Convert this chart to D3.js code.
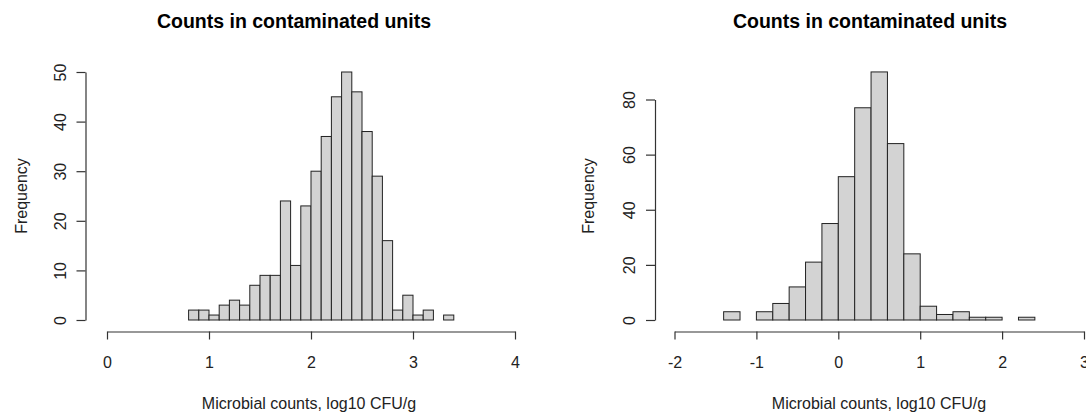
<!DOCTYPE html>
<html lang="en">
<head>
<meta charset="utf-8">
<title>Counts in contaminated units</title>
<script src="https://d3js.org/d3.v7.min.js"></script>
<style>
  html, body { margin: 0; padding: 0; background: #fff; }
  svg { display: block; font-family: "Liberation Sans", Arial, sans-serif; }
  .title { font-size: 19.5px; font-weight: bold; fill: #000; }
  .lab { font-size: 16px; fill: #222; }
  .axis text { font-size: 16px; fill: #222; font-family: "Liberation Sans", Arial, sans-serif; }
  .axis path, .axis line { stroke: #333; }
</style>
</head>
<body>
<svg width="1086" height="413"></svg>
<script>
// left histogram: bins of 0.1 starting at 0.8
const leftStart = 0.8, leftWidth = 0.1;
const leftCounts = [2, 2, 1, 3, 4, 3, 7, 9, 9, 24, 11, 23, 30, 37, 45, 50, 46, 38, 29, 16, 2, 5, 1, 2, 0, 1];
const leftXTicks = [0, 1, 2, 3, 4];
const leftYTicks = [0, 10, 20, 30, 40, 50];

// right histogram: bins of 0.2 starting at -1.4
const rightStart = -1.4, rightWidth = 0.2;
const rightCounts = [3, 0, 3, 6, 12, 21, 35, 52, 77, 90, 64, 24, 5, 2, 3, 1, 1, 0, 1];
const rightXTicks = [-2, -1, 0, 1, 2, 3];
const rightYTicks = [0, 20, 40, 60, 80];

const svg = d3.select("svg");

function hist(cfg) {
  const x = d3.scaleLinear().domain(cfg.xDomain).range(cfg.xRange);
  const y = d3.scaleLinear().domain(cfg.yDomain).range([320, cfg.yTop]);
  const bins = cfg.counts.map((c, i) => ({
    x0: cfg.start + i * cfg.width,
    x1: cfg.start + (i + 1) * cfg.width,
    c: c
  }));

  const g = svg.append("g");

  g.selectAll("rect")
    .data(bins)
    .enter()
    .append("rect")
    .attr("x", d => x(d.x0))
    .attr("width", d => x(d.x1) - x(d.x0))
    .attr("y", d => y(d.c))
    .attr("height", d => y(0) - y(d.c))
    .attr("fill", "#d3d3d3")
    .attr("stroke", "#222")
    .attr("stroke-width", 1);

  // x axis, R style: below the plot, only over the tick range
  g.append("g")
    .attr("class", "axis")
    .attr("transform", "translate(0,331.5)")
    .call(d3.axisBottom(x).tickValues(cfg.xTicks).tickFormat(d => String(d))
      .tickSize(8).tickSizeOuter(0).tickPadding(17))
    .call(a => a.select(".domain").attr("stroke-width", 1.2))
    .call(a => a.selectAll("line").attr("stroke-width", 1.2));

  // y axis with rotated labels
  const ya = g.append("g")
    .attr("class", "axis")
    .attr("transform", `translate(${cfg.yAxisX},0)`)
    .call(d3.axisLeft(y).tickValues(cfg.yTicks).tickFormat(d => String(d))
      .tickSize(9).tickSizeOuter(0))
    .call(a => a.select(".domain").attr("stroke-width", 1.2))
    .call(a => a.selectAll("line").attr("stroke-width", 1.2));
  ya.selectAll(".tick text")
    .attr("transform", "rotate(-90)")
    .attr("x", 0)
    .attr("y", -20)
    .attr("dy", 0)
    .attr("text-anchor", "middle");

  g.append("text")
    .attr("class", "title")
    .attr("x", cfg.titleX)
    .attr("y", 28)
    .attr("text-anchor", "middle")
    .text("Counts in contaminated units");

  g.append("text")
    .attr("class", "lab")
    .attr("x", cfg.xLabX)
    .attr("y", 409)
    .attr("text-anchor", "middle")
    .text("Microbial counts, log10 CFU/g");

  g.append("text")
    .attr("class", "lab")
    .attr("transform", `translate(${cfg.yLabX},196) rotate(-90)`)
    .attr("text-anchor", "middle")
    .attr("dominant-baseline", "central")
    .text("Frequency");
}

hist({
  counts: leftCounts, start: leftStart, width: leftWidth,
  xDomain: [0, 4], xRange: [107, 515], xTicks: leftXTicks,
  yDomain: [0, 50], yTop: 72, yTicks: leftYTicks,
  yAxisX: 85.5, titleX: 294, xLabX: 309, yLabX: 21
});

hist({
  counts: rightCounts, start: rightStart, width: rightWidth,
  xDomain: [-2, 3], xRange: [674.5, 1084], xTicks: rightXTicks,
  yDomain: [0, 80], yTop: 99.5, yTicks: rightYTicks,
  yAxisX: 655, titleX: 870, xLabX: 879, yLabX: 588
});
</script>
</body>
</html>
